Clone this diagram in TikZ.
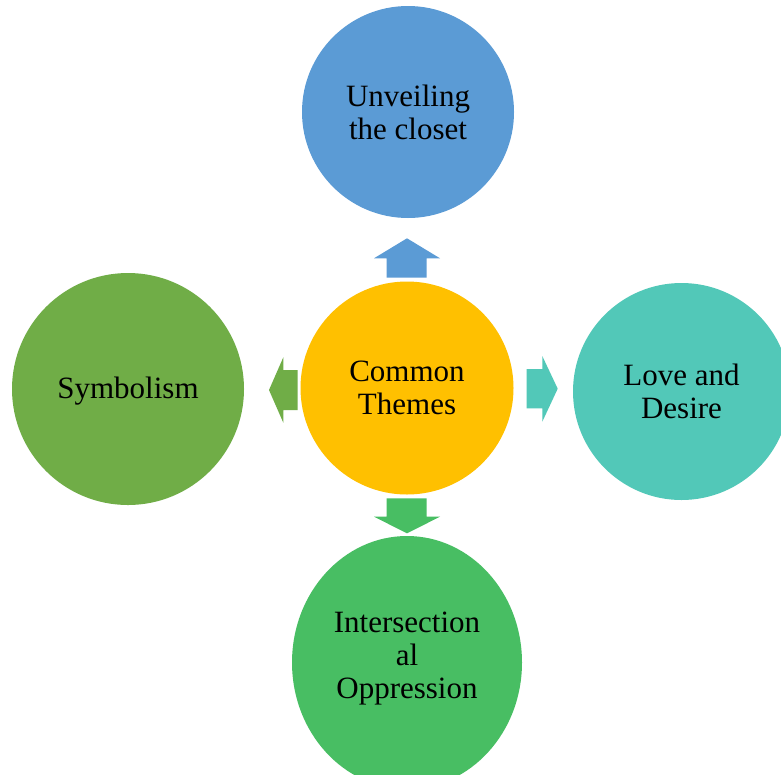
\documentclass[tikz,border=0pt]{standalone}
\usepackage{fontspec}
\usetikzlibrary{shapes.geometric}
\setmainfont{Liberation Serif}
\definecolor{cblue}{HTML}{5B9BD5}
\definecolor{cyellow}{HTML}{FFC000}
\definecolor{cteal}{HTML}{52C8B8}
\definecolor{cgreen}{HTML}{70AD47}
\definecolor{cgreenb}{HTML}{48BE63}
\begin{document}
\begin{tikzpicture}[x=1pt,y=-1pt,
  theme/.style={circle,inner sep=0pt,align=center,text=black,
    font=\fontsize{31}{33}\selectfont},
  label text/.style={inner sep=0pt,align=center,text=black,
    font=\fontsize{31}{33}\selectfont}]
\useasboundingbox (0,0) rectangle (781,774);
\fill[white] (0,0) rectangle (781,774);
\clip (0,0) rectangle (781,774);
\node[theme,fill=cblue,minimum size=212pt] (top) at (408,112) {Unveiling\\the closet};
\node[theme,fill=cyellow,minimum size=213pt] (mid) at (407,388) {Common\\Themes};
\node[theme,fill=cteal,minimum size=217pt] (right) at (681.5,391.5) {Love and\\Desire};
\node[theme,fill=cgreen,minimum size=232pt] (left) at (128,389) {};
\node[label text] (lefttext) at (128,391) {Symbolism};
\node[ellipse,inner sep=0pt,fill=cgreenb,minimum width=230pt,minimum height=253pt] (bottom) at (407,662.5) {};
\node[label text] (bottomtext) at (407,658.5) {Intersection\\al\\Oppression};
% block arrows
\fill[cblue] (386.7,277.7) -- (386.7,258.3) -- (374,258.3) -- (407,238.3) -- (440,258.3) -- (426.7,258.3) -- (426.7,277.7) -- cycle;
\fill[cteal] (526.7,369) -- (542.3,369) -- (542.3,356) -- (557.7,388.7) -- (542.3,421.7) -- (542.3,408.3) -- (526.7,408.3) -- cycle;
\fill[cgreen] (297.7,370) -- (283.3,370) -- (283.3,357.3) -- (269,390) -- (283.3,422.7) -- (283.3,410) -- (297.7,410) -- cycle;
\fill[cgreenb] (386.7,498.3) -- (426.7,498.3) -- (426.7,516.7) -- (440,516.7) -- (407,533.3) -- (374,516.7) -- (386.7,516.7) -- cycle;
\end{tikzpicture}
\end{document}
